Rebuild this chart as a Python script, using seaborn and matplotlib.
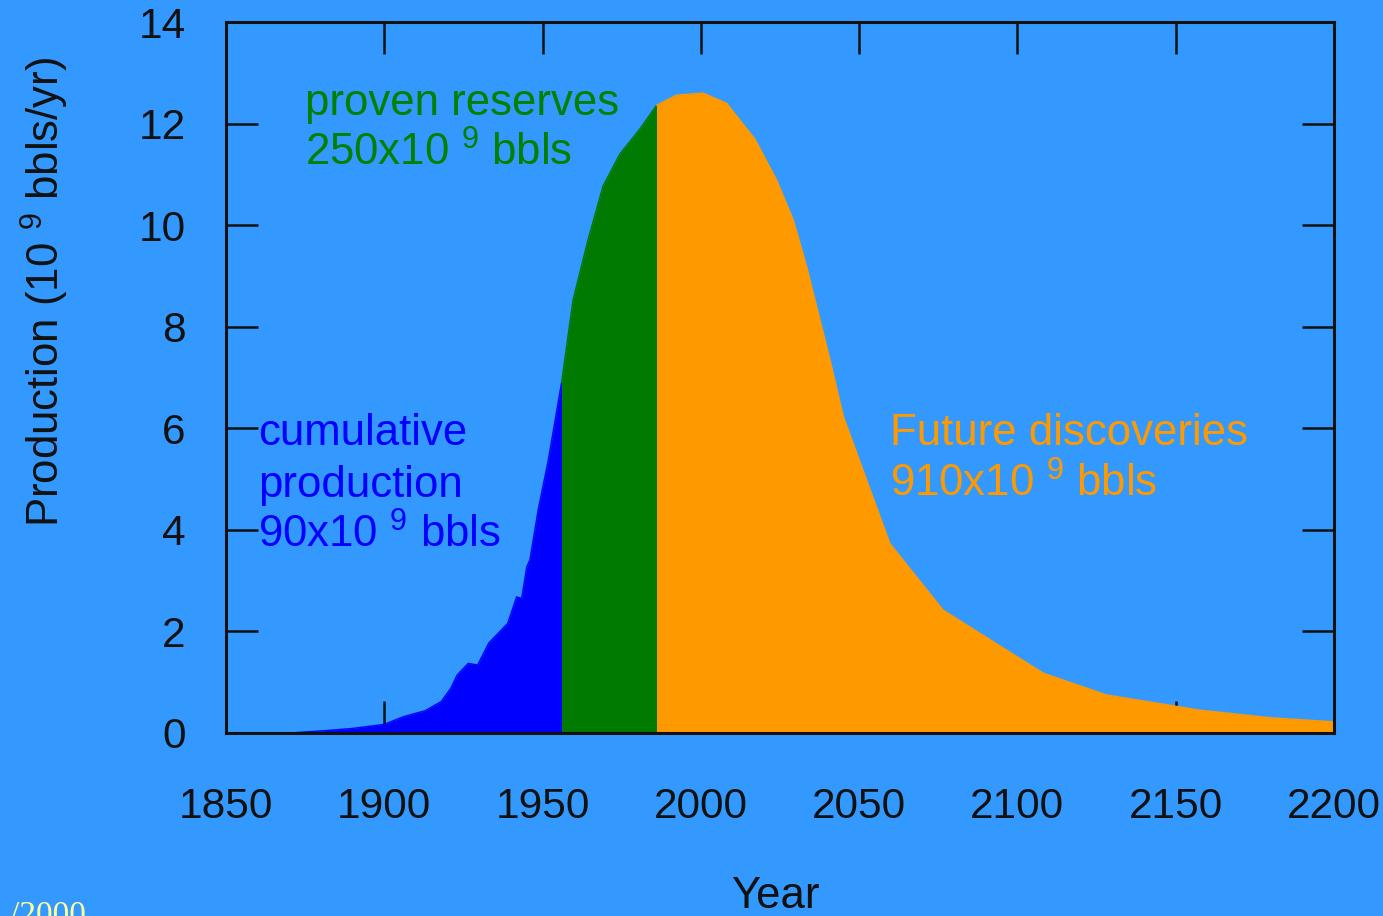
import numpy as np
import pandas as pd
import matplotlib
matplotlib.use("Agg")
import matplotlib.pyplot as plt
import seaborn as sns

# ---- data ----
years = [1850, 1870, 1880, 1890, 1900, 1906, 1913, 1918, 1921, 1923, 1926.5, 1929.5,
         1933, 1939, 1941.8, 1943.4, 1945, 1946, 1948.6, 1951.8, 1956,
         1959.6, 1964.3, 1969.1, 1974.4, 1980.8, 1986,
         1992.3, 2000.7, 2008.1, 2017, 2023.9, 2029.2, 2033.4, 2040.8, 2045,
         2059.7, 2076.5, 2108.1, 2128.1, 2157.6, 2180, 2200]
production = [0.0, 0.0, 0.04, 0.09, 0.17, 0.32, 0.44, 0.62, 0.88, 1.14, 1.37, 1.34,
              1.77, 2.16, 2.68, 2.65, 3.27, 3.41, 4.39, 5.37, 6.9,
              8.52, 9.7, 10.77, 11.4, 11.9, 12.36,
              12.56, 12.6, 12.4, 11.7, 10.89, 10.1, 9.18, 7.34, 6.23,
              3.73, 2.42, 1.18, 0.75, 0.45, 0.3, 0.22]
segment_names = ["cumulative", "proven", "future"]
segment_bounds = [(1850, 1956), (1956, 1986), (1986, 2200)]
segment_colors = ["#0000FF", "#007A00", "#FF9900"]
x_ticks = [1850, 1900, 1950, 2000, 2050, 2100, 2150, 2200]
y_ticks = [0, 2, 4, 6, 8, 10, 12, 14]

BG = "#3399FF"

sns.set_theme(style="ticks", rc={
    "figure.facecolor": BG, "axes.facecolor": BG, "savefig.facecolor": BG,
})
plt.rcParams["font.family"] = ["Liberation Sans", "DejaVu Sans"]
plt.rcParams["mathtext.fontset"] = "custom"
plt.rcParams["mathtext.rm"] = "Liberation Sans"
plt.rcParams["mathtext.it"] = "Liberation Sans"
plt.rcParams["mathtext.default"] = "regular"

fig = plt.figure(figsize=(13.83, 9.16), dpi=100)
ax = fig.add_axes([226 / 1383, 1 - 733 / 916, (1334 - 226) / 1383, (733 - 22) / 916])
ax.set_axisbelow(True)

yrs = np.array(years, dtype=float)
prod = np.array(production, dtype=float)
rows = []
for name, (lo, hi), col in zip(segment_names, segment_bounds, segment_colors):
    m = (yrs >= lo) & (yrs <= hi)
    ax.fill_between(yrs[m], 0, prod[m], color=col, linewidth=0, zorder=1)
    for yv, pv in zip(yrs[m], prod[m]):
        rows.append({"year": yv, "prod": pv, "segment": name})
df = pd.DataFrame(rows)
sns.lineplot(data=df, x="year", y="prod", hue="segment", estimator=None,
             palette=dict(zip(segment_names, segment_colors)), linewidth=1,
             legend=False, ax=ax, zorder=1.5)

ax.set_xlim(1850, 2200)
ax.set_ylim(0, 14)
ax.set_xticks(x_ticks)
ax.set_yticks(y_ticks)
ax.set_xlabel("")
ax.set_ylabel("")
for s in ax.spines.values():
    s.set_visible(True)
    s.set_linewidth(2.2)
    s.set_color("#111111")
    s.set_zorder(3)
ax.tick_params(axis="both", direction="in", length=23, width=1.8, color="#111111",
               labelsize=30.5, labelcolor="#111111", top=True, right=True)
ax.tick_params(axis="y", pad=29)
ax.tick_params(axis="x", pad=39)

fs = 31.5
# annotations
ax.text(1875, 12.17, "proven reserves", color="#008000", fontsize=fs, va="baseline")
ax.text(1875, 11.18, "250x10 $^{9}$ bbls", color="#008000", fontsize=fs, va="baseline")
ax.text(1860.1, 5.67, "cumulative", color="#0000FF", fontsize=fs, va="baseline")
ax.text(1860.1, 4.65, "production", color="#0000FF", fontsize=fs, va="baseline")
ax.text(1860.1, 3.64, "90x10 $^{9}$ bbls", color="#0000FF", fontsize=fs, va="baseline")
ax.text(2059.7, 5.67, "Future discoveries", color="#FF9900", fontsize=fs, va="baseline")
ax.text(2059.7, 4.65, "910x10 $^{9}$ bbls", color="#FF9900", fontsize=fs, va="baseline")

fig.text(45 / 1383, 1 - 292 / 916, "Production (10 $^{9}$ bbls/yr)", rotation=90,
         ha="center", va="center", fontsize=fs, color="#111111")
fig.text(775 / 1383, 1 - 897 / 916, "Year", ha="center", va="center",
         fontsize=fs, color="#111111")
# partially visible footer text, cut off at the bottom edge as in the reference
fig.text(10 / 1383, -8 / 916, "/2000", color="#FFFF99", fontsize=24,
         family="Liberation Serif", ha="left", va="baseline")

fig.savefig("out.png", dpi=100, facecolor=BG)
